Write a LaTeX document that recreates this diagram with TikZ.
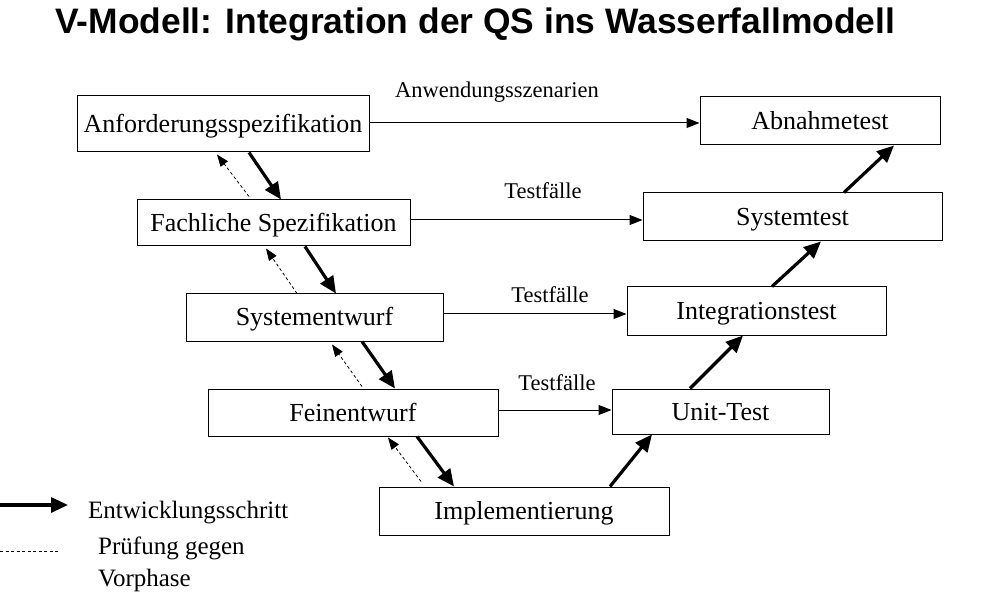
\documentclass[tikz,border=0pt]{standalone}
\usepackage{fontspec}
\setmainfont{Liberation Serif}
\newfontfamily\titlefont{Liberation Sans}
\usetikzlibrary{arrows.meta,calc}
\begin{document}
\begin{tikzpicture}[x=1pt,y=-1pt,
  box/.style={draw,line width=1pt,inner sep=0pt,minimum height=47pt,text height=17pt,text depth=0pt,font=\fontsize{26}{28}\selectfont},
  lbl/.style={inner sep=0pt,font=\fontsize{22.5}{24}\selectfont},
  thick arrow/.style={line width=3.2pt,-{Triangle[length=17pt,width=15pt]}},
  thin arrow/.style={line width=1pt,-{Triangle[length=13pt,width=10pt]}},
  check arrow/.style={line width=0.8pt,dash pattern=on 3pt off 2.5pt,-{Triangle[length=12pt,width=9pt]}}]
\useasboundingbox (0,0) rectangle (986,596);
\node[anchor=base west,inner sep=0pt,font=\titlefont\bfseries\fontsize{35.4}{38}\selectfont] (title) at (55,34) {V-Modell: Integration der QS ins Wasserfallmodell};
% left branch
\node[box,minimum width=292pt,minimum height=56pt] (A) at (223,124) {Anforderungsspezifikation};
\node[box,minimum width=273pt,minimum height=46pt] (F) at (273.5,223) {Fachliche Spezifikation};
\node[box,minimum width=257pt] (S) at (314.5,317.5) {Systementwurf};
\node[box,minimum width=290pt] (Fe) at (353,412.5) {Feinentwurf};
\node[box,minimum width=290pt,minimum height=48pt] (I) at (524,511) {Implementierung};
% right branch
\node[box,minimum width=217pt,minimum height=45pt] (U) at (720.5,411.5) {Unit-Test};
\node[box,minimum width=259pt,minimum height=48pt] (In) at (756.5,311) {Integrationstest};
\node[box,minimum width=299pt,minimum height=48pt] (Sy) at (792.5,217) {Systemtest};
\node[box,minimum width=240pt,minimum height=48pt] (Ab) at (820,121) {Abnahmetest};
% development steps
\draw[thick arrow] ([xshift=26pt]A.south) -- ([xshift=7.5pt]F.north);
\draw[thick arrow] ([xshift=31.5pt]F.south) -- ([xshift=21.5pt]S.north);
\draw[thick arrow] ([xshift=47.5pt]S.south) -- ([xshift=42pt]Fe.north);
\draw[thick arrow] ([xshift=64pt]Fe.south) -- ([xshift=-70pt]I.north);
\draw[thick arrow] ([xshift=86pt]I.north) -- ([xshift=-68.5pt]U.south);
\draw[thick arrow] ([xshift=-30.5pt]U.north) -- ([xshift=-13.5pt]In.south);
\draw[thick arrow] ([xshift=15.5pt]In.north) -- ([xshift=28.5pt]Sy.south);
\draw[thick arrow] ([xshift=51.5pt]Sy.north) -- ([xshift=74pt]Ab.south);
% checks against previous phase
\draw[check arrow] ([xshift=-24.5pt,yshift=3pt]F.north) -- ([xshift=-6pt,yshift=-2pt]A.south);
\draw[check arrow] ([xshift=-17.5pt]S.north) -- ([xshift=-7.5pt,yshift=-2pt]F.south);
\draw[check arrow] ([xshift=9pt,yshift=2pt]Fe.north) -- ([xshift=17.5pt,yshift=-3pt]S.south);
\draw[check arrow] ([xshift=-103pt,yshift=5pt]I.north) -- ([xshift=35pt,yshift=-1pt]Fe.south);
% test cases
\draw[thin arrow] ([yshift=1pt]A.east) -- ([yshift=1pt]A.east -| Ab.west);
\draw[thin arrow] ([yshift=3pt]F.east) -- ([yshift=3pt]F.east -| Sy.west);
\draw[thin arrow] ([yshift=3.5pt]S.east) -- ([yshift=3.5pt]S.east -| In.west);
\draw[thin arrow] ([yshift=2.5pt]Fe.east) -- ([yshift=2.5pt]Fe.east -| U.west);
\node[lbl] (l1) at (497,92) {Anwendungsszenarien};
\node[lbl] (l2) at (543,191) {Testfälle};
\node[lbl] (l3) at (550,295) {Testfälle};
\node[lbl] (l4) at (557,383) {Testfälle};
% legend
\coordinate (ls1) at (0,505);
\coordinate (le1) at (68,505);
\coordinate (ls2) at (0,551);
\coordinate (le2) at (60,551);
\draw[thick arrow] (ls1) -- (le1);
\draw[line width=0.8pt,dash pattern=on 3pt off 2.5pt] (ls2) -- (le2);
\node[lbl,anchor=base west,font=\fontsize{25}{27}\selectfont] (leg1) at (88,518) {Entwicklungsschritt};
\node[lbl,anchor=base west,font=\fontsize{25}{27}\selectfont] (leg2) at (98,554) {Prüfung gegen};
\node[lbl,anchor=base west,font=\fontsize{25}{27}\selectfont] (leg3) at (98,586) {Vorphase};
\end{tikzpicture}
\end{document}
